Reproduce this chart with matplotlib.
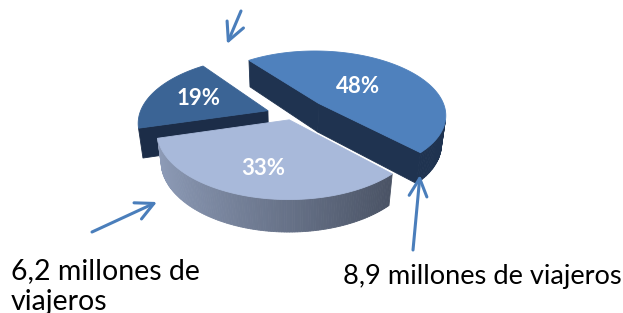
import numpy as np
import matplotlib
matplotlib.use('Agg')
import matplotlib.pyplot as plt
from matplotlib.patches import Polygon
from matplotlib.colors import to_rgb

# ---- data ----
values = [48, 33, 19]
pct_labels = ['48%', '33%', '19%']
annot_left = '6,2 millones de\nviajeros'
annot_right = '8,9 millones de viajeros'

# ---- styles ----
top_colors = ['#4F81BD', '#A8B9DA', '#3B6495']
side_light = ['#1F3350', '#909EBA', '#1C2D48']
side_dark = ['#1F3350', '#3D4555', '#1C2D48']
radial_colors = ['#1F3350', '#4A5468', '#1C2D48']
explode = [0.28, 0.08, 0.2]
label_r = [0.45, 0.68, 0.6]
start_angle = 127.0
arrow_color = '#4A7EBB'

# projection parameters (pixel space)
S, CX, CY = 125.0, 292.0, 144.0
SE = 0.54
CE = np.sqrt(1 - SE ** 2)
DIST = 5.2
H = 0.27
cam = np.array([0.0, -DIST * CE, DIST * SE])


def proj(X, Y, Z):
    X = np.asarray(X, float); Y = np.asarray(Y, float); Z = np.asarray(Z, float)
    v = Y * SE + Z * CE
    depth = DIST + Y * CE - Z * SE
    k = DIST / depth
    return CX + S * X * k, CY - S * v * k


def visible(normal, point):
    return np.dot(normal, cam - point) > 0


fig = plt.figure(figsize=(6.23, 3.13), dpi=100)
ax = fig.add_axes([0, 0, 1, 1])
ax.set_xlim(0, 623)
ax.set_ylim(313, 0)
ax.axis('off')

total = float(sum(values))
slices = []
a = start_angle
for i, v in enumerate(values):
    span = 360.0 * v / total
    t1, t2 = a, a - span
    a -= span
    mid = np.radians((t1 + t2) / 2)
    ox, oy = explode[i] * np.cos(mid), explode[i] * np.sin(mid)
    slices.append((i, np.radians(t1), np.radians(t2), mid, ox, oy))

# painter's order: farthest (largest Y) first
slices.sort(key=lambda s: -(s[5] + 0.5 * np.sin(s[3])))

for (i, t1, t2, mid, ox, oy) in slices:
    faces = []
    # outer curved side
    th = np.linspace(t1, t2, 120)
    cl = np.array(to_rgb(side_light[i])); cd = np.array(to_rgb(side_dark[i]))
    for j in range(len(th) - 1):
        tm = 0.5 * (th[j] + th[j + 1])
        n = np.array([np.cos(tm), np.sin(tm), 0.0])
        p = np.array([ox + np.cos(tm), oy + np.sin(tm), H / 2])
        if not visible(n, p):
            continue
        X = ox + np.cos([th[j], th[j + 1], th[j + 1], th[j]])
        Y = oy + np.sin([th[j], th[j + 1], th[j + 1], th[j]])
        Z = [H, H, 0, 0]
        sx, sy = proj(X, Y, Z)
        t = (1 - np.cos(tm)) / 2
        col = cd + (cl - cd) * t
        faces.append((p[1], np.column_stack([sx, sy]), col))
    # radial faces
    for tt, sgn in ((t1, 1), (t2, -1)):
        n = np.array([np.cos(tt + sgn * np.pi / 2), np.sin(tt + sgn * np.pi / 2), 0.0])
        p = np.array([ox + 0.5 * np.cos(tt), oy + 0.5 * np.sin(tt), H / 2])
        if not visible(n, p):
            continue
        X = [ox, ox + np.cos(tt), ox + np.cos(tt), ox]
        Y = [oy, oy + np.sin(tt), oy + np.sin(tt), oy]
        Z = [H, H, 0, 0]
        sx, sy = proj(X, Y, Z)
        faces.append((p[1], np.column_stack([sx, sy]), radial_colors[i]))
    faces.sort(key=lambda f: -f[0])
    for _, pts, col in faces:
        ax.add_patch(Polygon(pts, closed=True, facecolor=col, edgecolor=col, lw=0.6))
    # top face
    th = np.linspace(t1, t2, 200)
    X = np.concatenate([[ox], ox + np.cos(th)])
    Y = np.concatenate([[oy], oy + np.sin(th)])
    sx, sy = proj(X, Y, np.full_like(X, H))
    ax.add_patch(Polygon(np.column_stack([sx, sy]), closed=True,
                         facecolor=top_colors[i], edgecolor=top_colors[i], lw=0.6))
    lx, ly = proj(ox + label_r[i] * np.cos(mid), oy + label_r[i] * np.sin(mid), H)
    ax.text(lx, ly, pct_labels[i], color='white', fontsize=16, fontweight='bold',
            family='Lato', ha='center', va='center')

# annotation arrows
arrows = [((241, 11), (227, 44)), ((92, 232), (157, 202)), ((413, 250), (420, 175))]
for tail, head in arrows:
    ax.annotate('', xy=head, xytext=tail,
                arrowprops=dict(arrowstyle='->,head_length=0.4,head_width=0.2',
                                color=arrow_color, lw=2.2, mutation_scale=32,
                                shrinkA=0, shrinkB=0))

ax.text(11, 310, annot_left, fontsize=20.5, family='Lato', color='black',
        ha='left', va='baseline', linespacing=1.25)
ax.text(343, 284, annot_right, fontsize=19.6, family='Lato', color='black',
        ha='left', va='baseline')

fig.savefig('out.png', dpi=100)
